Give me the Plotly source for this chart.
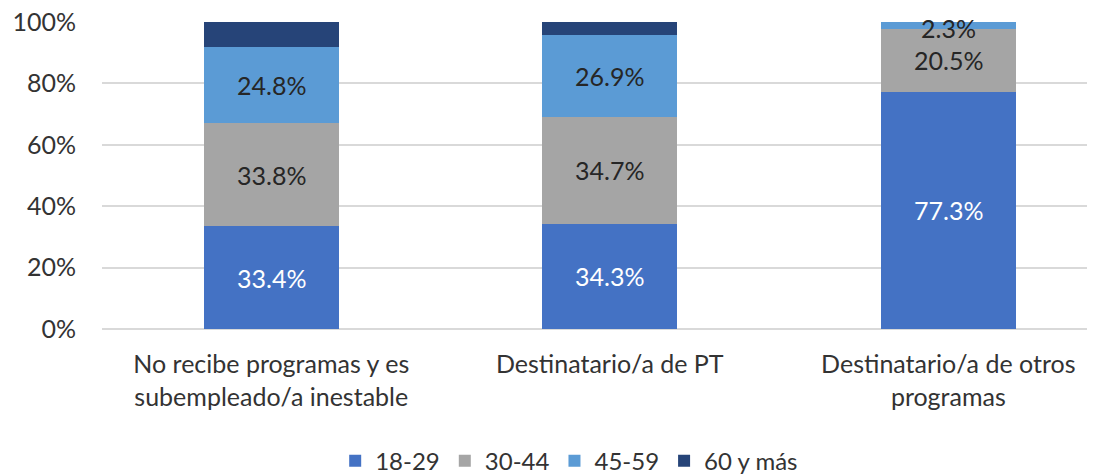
import plotly.graph_objects as go

categories = [
    "No recibe programas y es<br>subempleado/a inestable",
    "Destinatario/a de PT",
    "Destinatario/a de otros<br>programas",
]
series_names = ["18-29", "30-44", "45-59", "60 y más"]
v_18_29 = [33.4, 34.3, 77.3]
v_30_44 = [33.8, 34.7, 20.5]
v_45_59 = [24.8, 26.9, 2.3]
v_60_mas = [8.0, 4.1, 0.0]
show_labels = [True, True, True, False]
colors = ["#4472C4", "#A5A5A5", "#5B9BD5", "#264478"]
label_colors = ["#FFFFFF", "#262626", "#262626", "#262626"]
y_ticks = [0, 20, 40, 60, 80, 100]

FONT = "Lato"
series = [v_18_29, v_30_44, v_45_59, v_60_mas]

fig = go.Figure()
for name, vals, col in zip(series_names, series, colors):
    fig.add_trace(go.Bar(
        name=name, x=categories, y=vals, marker=dict(color=col, line=dict(width=0)),
        width=0.4,
    ))

annotations = []
base = [0.0] * len(categories)
for si, vals in enumerate(series):
    for ci, v in enumerate(vals):
        mid = base[ci] + v / 2
        if show_labels[si] and v > 0:
            annotations.append(dict(
                x=categories[ci], y=mid, xref="x", yref="y",
                text=f"{v:.1f}%", showarrow=False,
                font=dict(family=FONT, size=25, color=label_colors[si]),
                yshift=-3 if v < 5 else 0,
            ))
        base[ci] += v

fig.update_layout(
    barmode="stack",
    width=1095, height=475,
    margin=dict(l=94, r=0, t=14, b=154, autoexpand=False),
    paper_bgcolor="white", plot_bgcolor="white",
    font=dict(family=FONT, size=25, color="#333333"),
    showlegend=True,
    legend=dict(orientation="h", xref="container", yref="container",
                x=0.5125, xanchor="center", y=0.046, yanchor="middle",
                font=dict(family=FONT, size=24, color="#333333"),
                itemwidth=30, traceorder="normal"),
    annotations=annotations,
)
fig.update_xaxes(range=[-0.5, 2.457], showline=False, ticks="", automargin=False,
                 tickfont=dict(family=FONT, size=25, color="#333333"),
                 ticklabelstandoff=18, ticklabeloverflow="allow")
fig.update_yaxes(range=[0, 100], tickvals=y_ticks, ticktext=[f"{t}%" for t in y_ticks],
                 showgrid=True, gridcolor="#D9D9D9", gridwidth=1.5, automargin=False,
                 zeroline=True, zerolinecolor="#D9D9D9", zerolinewidth=1.5,
                 tickfont=dict(family=FONT, size=25, color="#333333"),
                 ticks="", ticklabelstandoff=25, ticklabeloverflow="allow")

fig.write_html("out.html")
